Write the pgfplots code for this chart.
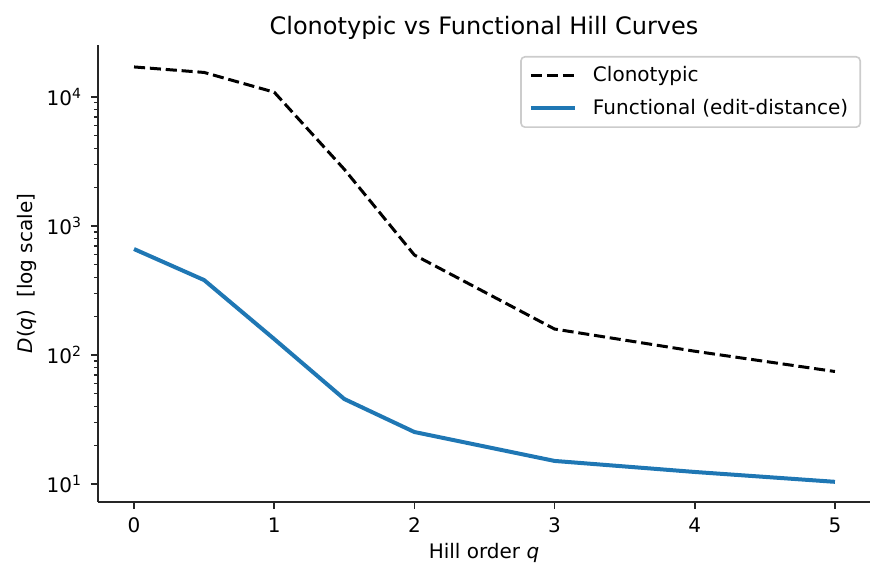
\documentclass[border=0pt]{standalone}
\usepackage{fontspec}
\setmainfont{DejaVu Sans}
\usepackage{pgfplots}
\pgfplotsset{compat=1.18}

\definecolor{tabblue}{HTML}{1F77B4}
\definecolor{spine}{HTML}{262626}

% Hill numbers D(q) for the two diversity notions
\pgfplotstableread{
q    D
0    17100
0.5  15500
1    10900
1.5  2750
2    596
3    159
4    107
5    74.5
}\clonotypic
\pgfplotstableread{
q    D
0    663
0.5  381
1    133
1.5  45.6
2    25.3
3    15.1
4    12.4
5    10.4
}\functional

\begin{document}
\begin{tikzpicture}
\path[use as bounding box] (-49pt,-41.5pt) rectangle (393.5pt,251pt);
\begin{axis}[
  at={(0,0)}, anchor=south west,
  scale only axis,
  width=386pt, height=228.5pt,
  ymode=log,
  xmin=-0.257, xmax=5.25,
  ymin=7.255, ymax=25300,
  axis x line*=bottom,
  axis y line*=left,
  axis line style={spine, line width=0.8pt, -},
  xtick={0,1,2,3,4,5},
  ytick={10,100,1000,10000},
  yticklabels={10\textsuperscript{1},10\textsuperscript{2},10\textsuperscript{3},10\textsuperscript{4}},
  minor y tick num=0,
  tick align=outside,
  tick pos=left,
  major tick length=3.5pt,
  minor tick length=2pt,
  every tick/.style={spine, line width=0.8pt},
  minor tick style={spine, line width=0.6pt},
  /pgf/number format/assume math mode=true,
  ticklabel style={font=\fontsize{10}{12}\selectfont, text=black},
  xticklabel style={yshift=-1pt},
  yticklabel style={xshift=-1pt},
  title={Clonotypic vs Functional Hill Curves},
  title style={font=\fontsize{12}{14}\selectfont, yshift=-7pt},
  xlabel={Hill order \textit{q}},
  ylabel={\textit{D}(\textit{q})\hspace{0.6em}[log scale]},
  label style={font=\fontsize{10}{12}\selectfont},
  xlabel style={yshift=2pt},
  ylabel style={yshift=-2pt},
  legend style={
    at={(1,1)}, anchor=north east, xshift=-4.5pt, yshift=-5.5pt,
    draw=black!20, rounded corners=2pt, line width=0.8pt,
    font=\fontsize{10}{12}\selectfont,
    inner xsep=4pt, inner ysep=3pt,
    row sep=3pt,
    /tikz/every odd column/.append style={column sep=6pt},
  },
  legend cell align=left,
  legend image code/.code={\draw[#1] (0pt,0pt) -- (22pt,0pt);},
]
\addplot[black, line width=1.5pt, dash pattern=on 5.55pt off 2.4pt] table[x=q, y=D] {\clonotypic};
\addlegendentry{Clonotypic}
\addplot[tabblue, line width=2pt] table[x=q, y=D] {\functional};
\addlegendentry{Functional (edit-distance)}
\end{axis}
\end{tikzpicture}
\end{document}
